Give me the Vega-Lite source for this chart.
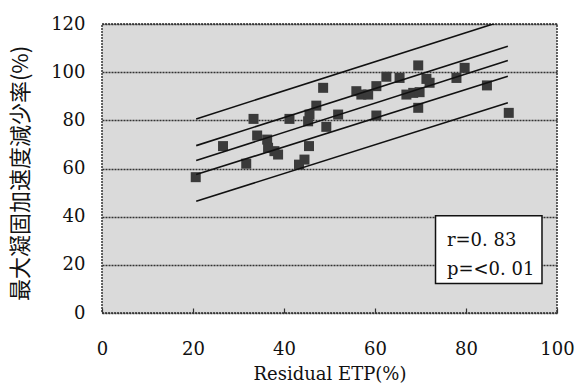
{
  "$schema": "https://vega.github.io/schema/vega-lite/v6.json",
  "width": 455,
  "height": 289,
  "autosize": {"type": "none"},
  "padding": {"left": 102, "top": 24, "right": 18, "bottom": 70},
  "background": "white",
  "config": {
    "view": {"fill": "#dadada", "stroke": "#333333", "strokeDash": [2, 1], "strokeWidth": 1.5},
    "axis": {"labelFont": "DejaVu Serif", "labelFontSize": 18, "labelColor": "#111111", "titleColor": "#111111", "titleFontWeight": "normal"}
  },
  "datasets": {
    "points": [
      {"etp": 20.6, "rate": 56.4}, {"etp": 26.6, "rate": 69.3}, {"etp": 31.7, "rate": 62.0},
      {"etp": 33.3, "rate": 80.6}, {"etp": 34.1, "rate": 73.7}, {"etp": 36.3, "rate": 72.0},
      {"etp": 36.5, "rate": 68.6}, {"etp": 37.9, "rate": 67.2}, {"etp": 38.7, "rate": 65.8},
      {"etp": 41.2, "rate": 80.6}, {"etp": 43.3, "rate": 61.6}, {"etp": 44.5, "rate": 63.7},
      {"etp": 45.5, "rate": 69.3}, {"etp": 45.3, "rate": 79.6}, {"etp": 45.6, "rate": 82.4},
      {"etp": 47.1, "rate": 86.1}, {"etp": 48.6, "rate": 93.5}, {"etp": 49.3, "rate": 77.3},
      {"etp": 51.9, "rate": 82.4}, {"etp": 55.9, "rate": 92.1}, {"etp": 57.0, "rate": 90.7},
      {"etp": 58.5, "rate": 90.7}, {"etp": 60.3, "rate": 94.2}, {"etp": 60.3, "rate": 82.0},
      {"etp": 62.5, "rate": 98.1}, {"etp": 65.4, "rate": 97.6}, {"etp": 66.9, "rate": 90.7},
      {"etp": 68.4, "rate": 91.4}, {"etp": 69.5, "rate": 102.8}, {"etp": 69.5, "rate": 85.2},
      {"etp": 69.8, "rate": 91.7}, {"etp": 71.3, "rate": 97.2}, {"etp": 72.0, "rate": 95.6},
      {"etp": 77.9, "rate": 97.6}, {"etp": 79.7, "rate": 101.8}, {"etp": 84.6, "rate": 94.5},
      {"etp": 89.4, "rate": 83.1}
    ],
    "lines": [
      {"line": "fit", "etp": 20.7, "rate": 63.3}, {"line": "fit", "etp": 89.2, "rate": 104.8},
      {"line": "ci_upper", "etp": 20.7, "rate": 69.5}, {"line": "ci_upper", "etp": 89.2, "rate": 110.8},
      {"line": "ci_lower", "etp": 20.7, "rate": 57.5}, {"line": "ci_lower", "etp": 89.2, "rate": 98.3},
      {"line": "pi_upper", "etp": 20.7, "rate": 80.6}, {"line": "pi_upper", "etp": 86.3, "rate": 120.2},
      {"line": "pi_lower", "etp": 20.7, "rate": 46.4}, {"line": "pi_lower", "etp": 89.2, "rate": 87.3}
    ],
    "box": [{"x": 73.3, "x2": 96.7, "y": 40.4, "y2": 12.2}],
    "labels": [
      {"etp": 75.8, "rate": 29.9, "text": "r=0. 83"},
      {"etp": 75.8, "rate": 17.8, "text": "p=<0. 01"}
    ]
  },
  "encoding": {
    "x": {"field": "etp", "type": "quantitative"},
    "y": {"field": "rate", "type": "quantitative"}
  },
  "layer": [
    {
      "data": {"name": "box"},
      "mark": {"type": "rect", "fill": "white", "stroke": "#111111", "strokeWidth": 1.5},
      "encoding": {
        "x": {"field": "x", "type": "quantitative",
          "scale": {"domain": [0, 100], "nice": false},
          "axis": {"values": [0, 20, 40, 60, 80, 100], "grid": false, "domain": false, "zindex": 1, "tickSize": -5, "tickColor": "#333333", "tickWidth": 1.2, "labelPadding": 41, "labelBaseline": "middle", "labelFlush": false, "title": "Residual ETP(%)", "titleFont": "DejaVu Serif", "titleFontSize": 18, "titleBaseline": "middle", "titleY": 61}},
        "x2": {"field": "x2"},
        "y": {"field": "y", "type": "quantitative",
          "scale": {"domain": [0, 120], "nice": false},
          "axis": {"values": [0, 20, 40, 60, 80, 100, 120], "ticks": false, "domain": false, "grid": true, "gridColor": "#333333", "gridDash": [2, 1], "gridWidth": 1.3, "labelPadding": 17, "title": "最大凝固加速度減少率(%)", "titleFont": "Noto Sans CJK JP", "titleFontSize": 22, "titleBaseline": "middle", "titleX": -82, "titleY": 149}},
        "y2": {"field": "y2"}
      }
    },
    {
      "data": {"name": "points"},
      "mark": {"type": "point", "shape": "square", "filled": true, "size": 100, "color": "#3a3a3a", "opacity": 1}
    },
    {
      "data": {"name": "lines"},
      "mark": {"type": "line", "color": "#111111", "strokeWidth": 1.6, "clip": true},
      "encoding": {"detail": {"field": "line", "type": "nominal"}}
    },
    {
      "data": {"name": "labels"},
      "mark": {"type": "text", "align": "left", "baseline": "middle", "font": "DejaVu Serif", "fontSize": 18, "color": "#111111"},
      "encoding": {"text": {"field": "text"}}
    }
  ]
}
